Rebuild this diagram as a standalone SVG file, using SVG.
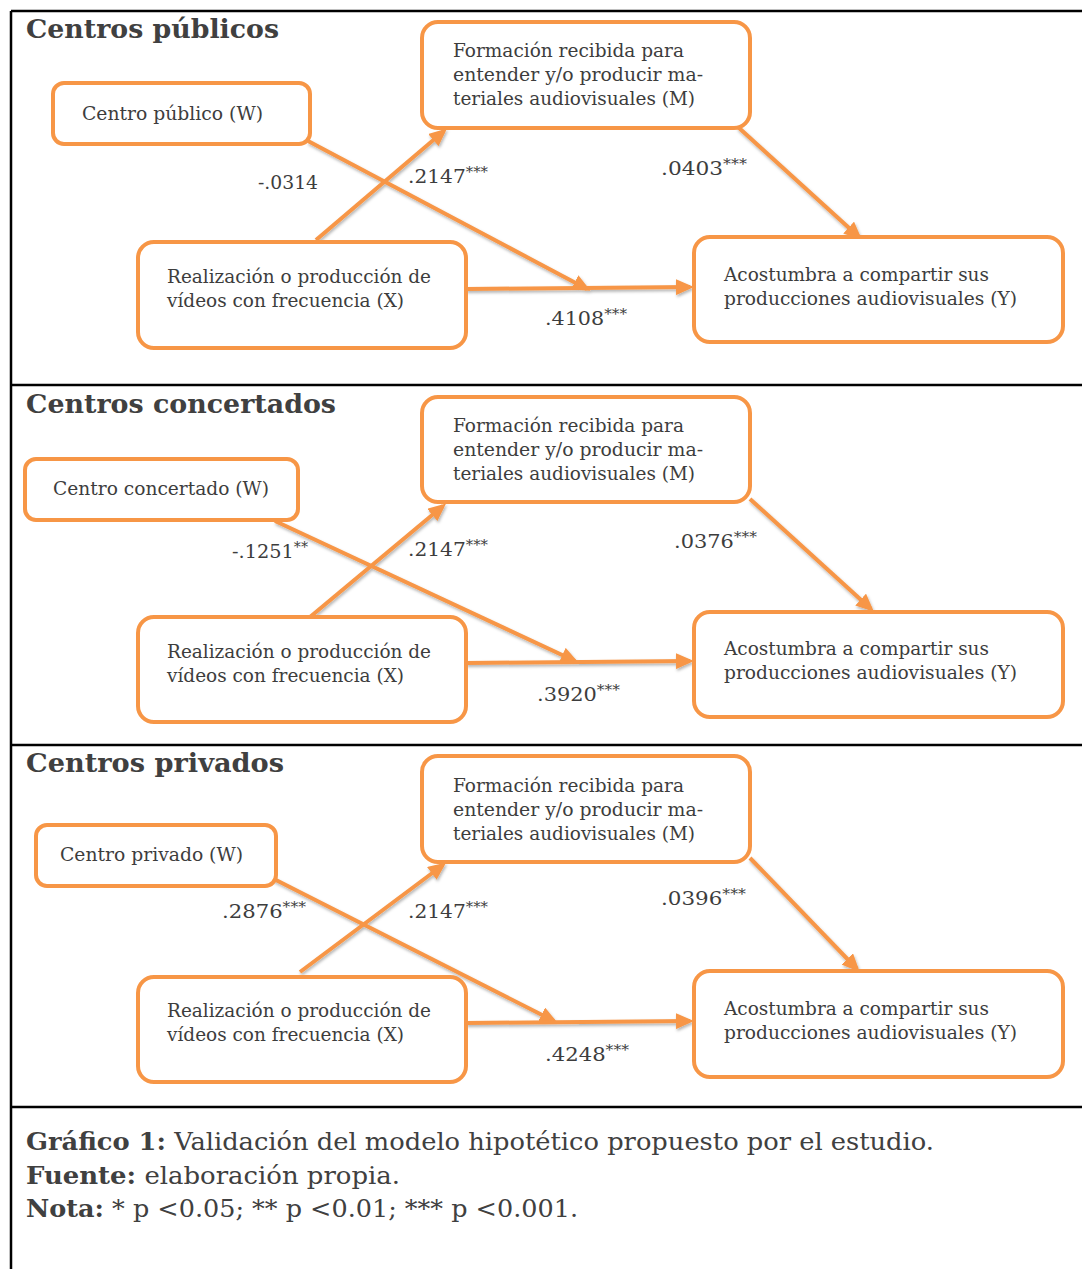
<svg xmlns="http://www.w3.org/2000/svg" width="1082" height="1269" viewBox="0 0 1082 1269">
<style>
.frame{stroke:#000;stroke-width:2.5;fill:none}
.box{fill:#fff;stroke:#F79646;stroke-width:4}
.t{font-family:"DejaVu Serif","Liberation Serif",serif;font-size:18.5px;fill:#3d3d3d}
.h{font-family:"DejaVu Serif","Liberation Serif",serif;font-size:26px;font-weight:bold;fill:#404040}
.lab{font-family:"DejaVu Serif","Liberation Serif",serif;font-size:19px;fill:#3d3d3d}
.sup{font-size:14px}
.cap{font-family:"DejaVu Serif","Liberation Serif",serif;font-size:24px;fill:#404040}
.b{font-weight:bold}
.edge{stroke:#F79646;stroke-width:4;fill:none;marker-end:url(#ah)}
</style>
<defs>
<marker id="ah" markerUnits="userSpaceOnUse" markerWidth="18" markerHeight="16" refX="14" refY="8" orient="auto">
<path d="M0,0 L18,8 L0,16 z" fill="#F79646"/>
</marker>
<filter id="sh" x="-10%" y="-10%" width="120%" height="130%">
<feDropShadow dx="1" dy="2" stdDeviation="1.5" flood-color="#000" flood-opacity="0.3"/>
</filter>
</defs>
<rect width="1082" height="1269" fill="#fff"/>
<g id="frame">
<path class="frame" d="M11,11 H1082 M11,11 V1269 M11,385 H1082 M11,745 H1082 M11,1107 H1082"/>
</g>

<g id="s1-title"><text class="h" x="26" y="38" textLength="253" lengthAdjust="spacingAndGlyphs">Centros públicos</text></g>
<g id="connectors" filter="url(#sh)">
<path class="edge" d="M316,240 L444,131"/>
<path class="edge" d="M308,141 L587,289"/>
<path class="edge" d="M466,289 L690,287"/>
<path class="edge" d="M738,127 L859,237"/>

<path class="edge" d="M310,617 L443,506"/>
<path class="edge" d="M275,521 L575,661"/>
<path class="edge" d="M466,663 L690,661"/>
<path class="edge" d="M750,499 L871,609"/>

<path class="edge" d="M300,972 L443,865"/>
<path class="edge" d="M272,878 L554,1021"/>
<path class="edge" d="M466,1023 L690,1021"/>
<path class="edge" d="M750,858 L857,969"/>
</g>

<g id="s1-W"><rect class="box" x="53" y="83" width="257" height="61" rx="11"/>
<text class="t" x="82" y="120" textLength="181" lengthAdjust="spacingAndGlyphs">Centro público (W)</text></g>
<g id="s1-M"><rect class="box" x="422" y="22" width="328" height="106" rx="16"/>
<text class="t" x="453" y="57" textLength="231" lengthAdjust="spacingAndGlyphs">Formación recibida para</text>
<text class="t" x="453" y="81" textLength="250" lengthAdjust="spacingAndGlyphs">entender y/o producir ma-</text>
<text class="t" x="453" y="105" textLength="242" lengthAdjust="spacingAndGlyphs">teriales audiovisuales (M)</text></g>
<g id="s1-X"><rect class="box" x="138" y="242" width="328" height="106" rx="16"/>
<text class="t" x="167" y="283" textLength="264" lengthAdjust="spacingAndGlyphs">Realización o producción de</text>
<text class="t" x="167" y="307" textLength="237" lengthAdjust="spacingAndGlyphs">vídeos con frecuencia (X)</text></g>
<g id="s1-Y"><rect class="box" x="694" y="237" width="369" height="105" rx="16"/>
<text class="t" x="724" y="281" textLength="265" lengthAdjust="spacingAndGlyphs">Acostumbra a compartir sus</text>
<text class="t" x="724" y="305" textLength="293" lengthAdjust="spacingAndGlyphs">producciones audiovisuales (Y)</text></g>
<g id="s1-labels">
<text class="lab" x="258" y="189" textLength="60" lengthAdjust="spacingAndGlyphs">-.0314</text>
<text class="lab" x="408" y="183" textLength="80" lengthAdjust="spacingAndGlyphs">.2147<tspan class="sup" dy="-6">***</tspan></text>
<text class="lab" x="661" y="175" textLength="86" lengthAdjust="spacingAndGlyphs">.0403<tspan class="sup" dy="-6">***</tspan></text>
<text class="lab" x="545" y="325" textLength="82" lengthAdjust="spacingAndGlyphs">.4108<tspan class="sup" dy="-6">***</tspan></text>
</g>

<g id="s2-title"><text class="h" x="26" y="413" textLength="310" lengthAdjust="spacingAndGlyphs">Centros concertados</text></g>
<g id="s2-W"><rect class="box" x="25" y="459" width="273" height="61" rx="11"/>
<text class="t" x="53" y="495" textLength="216" lengthAdjust="spacingAndGlyphs">Centro concertado (W)</text></g>
<g id="s2-M"><rect class="box" x="422" y="397" width="328" height="105" rx="16"/>
<text class="t" x="453" y="432" textLength="231" lengthAdjust="spacingAndGlyphs">Formación recibida para</text>
<text class="t" x="453" y="456" textLength="250" lengthAdjust="spacingAndGlyphs">entender y/o producir ma-</text>
<text class="t" x="453" y="480" textLength="242" lengthAdjust="spacingAndGlyphs">teriales audiovisuales (M)</text></g>
<g id="s2-X"><rect class="box" x="138" y="617" width="328" height="105" rx="16"/>
<text class="t" x="167" y="658" textLength="264" lengthAdjust="spacingAndGlyphs">Realización o producción de</text>
<text class="t" x="167" y="682" textLength="237" lengthAdjust="spacingAndGlyphs">vídeos con frecuencia (X)</text></g>
<g id="s2-Y"><rect class="box" x="694" y="612" width="369" height="105" rx="16"/>
<text class="t" x="724" y="655" textLength="265" lengthAdjust="spacingAndGlyphs">Acostumbra a compartir sus</text>
<text class="t" x="724" y="679" textLength="293" lengthAdjust="spacingAndGlyphs">producciones audiovisuales (Y)</text></g>
<g id="s2-labels">
<text class="lab" x="232" y="558" textLength="76" lengthAdjust="spacingAndGlyphs">-.1251<tspan class="sup" dy="-6">**</tspan></text>
<text class="lab" x="408" y="556" textLength="80" lengthAdjust="spacingAndGlyphs">.2147<tspan class="sup" dy="-6">***</tspan></text>
<text class="lab" x="674" y="548" textLength="83" lengthAdjust="spacingAndGlyphs">.0376<tspan class="sup" dy="-6">***</tspan></text>
<text class="lab" x="537" y="701" textLength="83" lengthAdjust="spacingAndGlyphs">.3920<tspan class="sup" dy="-6">***</tspan></text>
</g>

<g id="s3-title"><text class="h" x="26" y="772" textLength="258" lengthAdjust="spacingAndGlyphs">Centros privados</text></g>
<g id="s3-W"><rect class="box" x="36" y="825" width="240" height="61" rx="11"/>
<text class="t" x="60" y="861" textLength="183" lengthAdjust="spacingAndGlyphs">Centro privado (W)</text></g>
<g id="s3-M"><rect class="box" x="422" y="756" width="328" height="106" rx="16"/>
<text class="t" x="453" y="792" textLength="231" lengthAdjust="spacingAndGlyphs">Formación recibida para</text>
<text class="t" x="453" y="816" textLength="250" lengthAdjust="spacingAndGlyphs">entender y/o producir ma-</text>
<text class="t" x="453" y="840" textLength="242" lengthAdjust="spacingAndGlyphs">teriales audiovisuales (M)</text></g>
<g id="s3-X"><rect class="box" x="138" y="977" width="328" height="105" rx="16"/>
<text class="t" x="167" y="1017" textLength="264" lengthAdjust="spacingAndGlyphs">Realización o producción de</text>
<text class="t" x="167" y="1041" textLength="237" lengthAdjust="spacingAndGlyphs">vídeos con frecuencia (X)</text></g>
<g id="s3-Y"><rect class="box" x="694" y="971" width="369" height="106" rx="16"/>
<text class="t" x="724" y="1015" textLength="265" lengthAdjust="spacingAndGlyphs">Acostumbra a compartir sus</text>
<text class="t" x="724" y="1039" textLength="293" lengthAdjust="spacingAndGlyphs">producciones audiovisuales (Y)</text></g>
<g id="s3-labels">
<text class="lab" x="222" y="918" textLength="84" lengthAdjust="spacingAndGlyphs">.2876<tspan class="sup" dy="-6">***</tspan></text>
<text class="lab" x="408" y="918" textLength="80" lengthAdjust="spacingAndGlyphs">.2147<tspan class="sup" dy="-6">***</tspan></text>
<text class="lab" x="661" y="905" textLength="85" lengthAdjust="spacingAndGlyphs">.0396<tspan class="sup" dy="-6">***</tspan></text>
<text class="lab" x="545" y="1061" textLength="84" lengthAdjust="spacingAndGlyphs">.4248<tspan class="sup" dy="-6">***</tspan></text>
</g>

<g id="caption">
<text class="cap" x="26" y="1150" textLength="908" lengthAdjust="spacingAndGlyphs"><tspan class="b">Gráfico 1:</tspan> Validación del modelo hipotético propuesto por el estudio.</text>
<text class="cap" x="26" y="1184" textLength="374" lengthAdjust="spacingAndGlyphs"><tspan class="b">Fuente:</tspan> elaboración propia.</text>
<text class="cap" x="26" y="1217" textLength="552" lengthAdjust="spacingAndGlyphs"><tspan class="b">Nota:</tspan> * p &lt;0.05; ** p &lt;0.01; *** p &lt;0.001.</text>
</g>
</svg>
